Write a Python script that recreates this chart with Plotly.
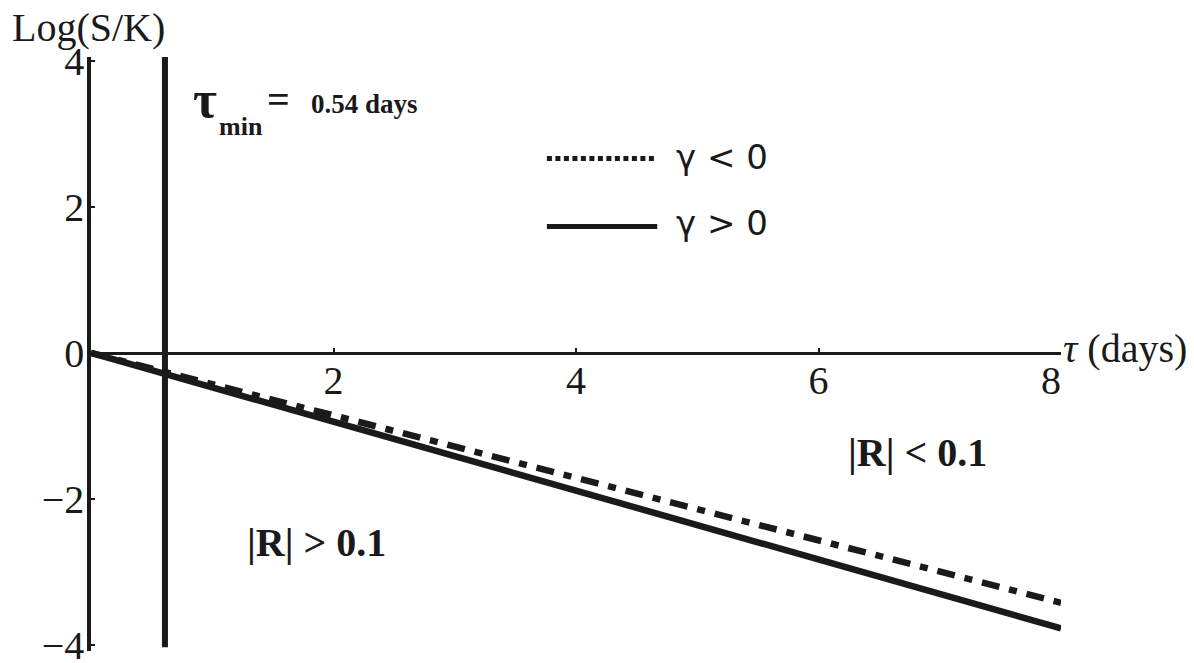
import plotly.graph_objects as go

# time to maturity (days) and log(S/K) boundaries
tau = [0, 8]
log_sk_neg_gamma = [0, -3.42]   # dash-dot, gamma < 0
log_sk_pos_gamma = [0, -3.77]   # solid, gamma > 0

tau_min_x = [0.61, 0.61]
tau_min_y = [-4.03, 4.05]

x_ticks = [2, 4, 6, 8]
x_ticktext = ["2", "4", "6", "8\u00a0\u00a0"]
y_ticks = [-4, -2, 0, 2, 4]
y_ticktext = ["\u22124", "\u22122", "0", "2", "4"]

y_range = [-4.08, 4.05]
serif = "Liberation Serif, Times New Roman, serif"
ink = "#1a1a1a"

fig = go.Figure()

fig.add_trace(go.Scatter(x=tau_min_x, y=tau_min_y, mode="lines",
                         line=dict(color=ink, width=6), showlegend=False))
fig.add_trace(go.Scatter(x=tau, y=log_sk_neg_gamma, mode="lines",
                         line=dict(color=ink, width=6.5, dash="18px,10px,8px,10px"),
                         showlegend=False))
fig.add_trace(go.Scatter(x=tau, y=log_sk_pos_gamma, mode="lines",
                         line=dict(color=ink, width=6.5), showlegend=False))

# legend keys drawn by hand
fig.add_shape(type="line", xref="x", yref="y", x0=3.76, x1=4.67, y0=2.66, y1=2.66,
              line=dict(color=ink, width=5, dash="5px,3.5px"))
fig.add_shape(type="line", xref="x", yref="y", x0=3.76, x1=4.67, y0=1.73, y1=1.73,
              line=dict(color=ink, width=5))

sans = dict(family="DejaVu Sans, sans-serif", size=34, color=ink)
fig.add_annotation(x=5.2, y=2.68, text="\u03b3 < 0", showarrow=False, font=sans)
fig.add_annotation(x=5.2, y=1.78, text="\u03b3 > 0", showarrow=False, font=sans)

# tau_min label
fig.add_annotation(x=0.94, y=3.47, text="<b>\u03c4</b>", showarrow=False,
                   font=dict(family=serif, size=52, color=ink))
fig.add_annotation(x=1.24, y=3.10, text="<b>min</b>", showarrow=False,
                   font=dict(family=serif, size=26, color=ink))
fig.add_annotation(x=1.55, y=3.47, text="<b>=</b>", showarrow=False,
                   font=dict(family=serif, size=40, color=ink))
fig.add_annotation(x=1.80, y=3.41, text="<b>0.54 days</b>", showarrow=False, xanchor="left",
                   font=dict(family=serif, size=27, color=ink))

# region labels
fig.add_annotation(x=6.82, y=-1.36, text="<b>|R| < 0.1</b>", showarrow=False,
                   font=dict(family=serif, size=40, color=ink))
fig.add_annotation(x=1.86, y=-2.60, text="<b>|R| > 0.1</b>", showarrow=False,
                   font=dict(family=serif, size=40, color=ink))

# axis titles
fig.add_annotation(xref="paper", yref="paper", x=-0.003, y=1.05, text="Log(S/K)",
                   xanchor="center", yanchor="middle",
                   showarrow=False, font=dict(family=serif, size=40, color=ink))
fig.add_annotation(x=8, y=0.06, text="<i>\u03c4</i> (days)", showarrow=False,
                   xanchor="left", yanchor="middle", xshift=0,
                   font=dict(family=serif, size=40, color=ink))

# page body adds an 8px offset, so the figure is sized to the remaining area
fig.update_layout(
    width=1186, height=655,
    paper_bgcolor="white", plot_bgcolor="white",
    margin=dict(l=83, r=133, t=49, b=12, autoexpand=False),
    showlegend=False,
    xaxis=dict(range=[0, 8], anchor="free", position=(0 - y_range[0]) / (y_range[1] - y_range[0]),
               showline=True, linecolor=ink, linewidth=3,
               showgrid=False, zeroline=False,
               tickvals=x_ticks, ticktext=x_ticktext,
               ticks="inside", ticklen=4, tickwidth=2, tickcolor=ink,
               ticklabelstandoff=-9, ticklabeloverflow="allow",
               tickfont=dict(family=serif, size=40, color=ink)),
    yaxis=dict(range=y_range, showline=True, linecolor=ink, linewidth=3.5,
               showgrid=False, zeroline=False,
               tickvals=y_ticks, ticktext=y_ticktext,
               ticks="inside", ticklen=4, tickwidth=2, tickcolor=ink,
               ticklabelstandoff=-5, ticklabeloverflow="allow",
               tickfont=dict(family=serif, size=40, color=ink)),
)

fig.write_html("out.html")
